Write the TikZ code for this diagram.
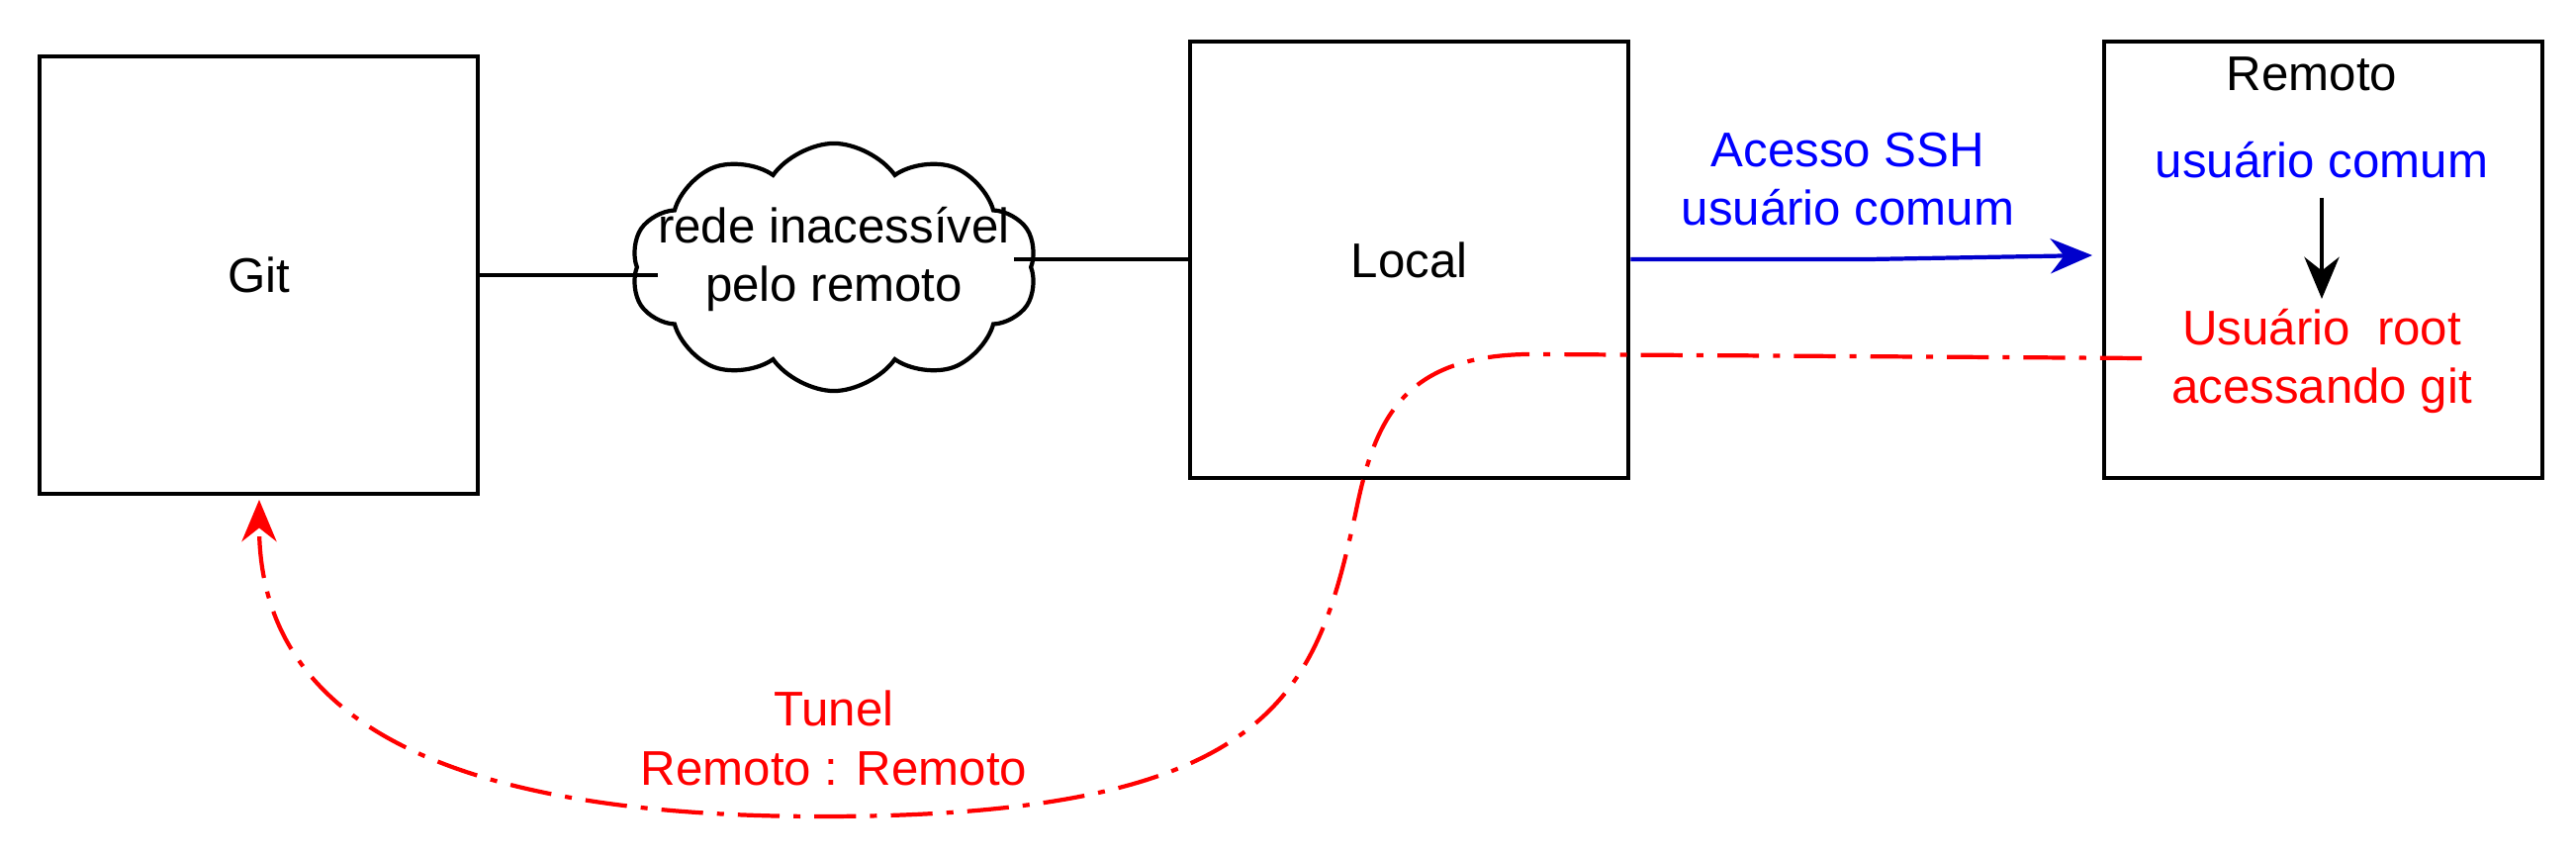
\documentclass[tikz,border=0pt]{standalone}
\usepackage{fontspec}
\setmainfont{Liberation Sans}
\usetikzlibrary{shapes.symbols,arrows.meta}
\definecolor{myblue}{RGB}{0,0,255}
\definecolor{myred}{RGB}{255,0,0}
\begin{document}
\begin{tikzpicture}[x=0.01cm,y=-0.01cm,
  box/.style={draw,line width=1.2pt,minimum width=4.43cm,minimum height=4.41cm,font=\fontsize{14}{17}\selectfont},
  txt/.style={font=\fontsize{14}{17}\selectfont,align=center},
  ln/.style={line width=1.2pt}]
\useasboundingbox (0,0) rectangle (2604,868);
\node[box] (git) at (261.5,278) {Git};
\node[box] (local) at (1424.5,262.5) {Local};
\node[box] (rem) at (2348.5,262.5) {};
\node[draw,ln,cloud,cloud puffs=10,cloud puff arc=110,cloud ignores aspect,minimum width=4.1cm,minimum height=2.5cm,inner sep=0pt] (cloud) at (843,270) {};
\node[txt] (cloudt) at (843,262) {rede inacessível\\pelo remoto};
\node[txt] (remt) at (2337,75) {Remoto};
\node[txt,text=myblue] (uc) at (2347,162) {usuário comum};
\node[txt,text=myred] (ur) at (2347,365) {Usuário\ \ root\\acessando git};
\node[txt,text=myblue] (ssh) at (1868,181) {Acesso SSH\\usuário comum};
\node[txt,text=myred] (tun) at (843,746) {Tunel\\Remoto : Remoto};
\coordinate (c1) at (665,278);
\coordinate (c2) at (1025,262);
\coordinate (b1) at (1890,262);
\coordinate (b2) at (2115,258);
\coordinate (k1) at (2347,200);
\coordinate (k2) at (2347,302);
\coordinate (r0) at (2165,362);
\coordinate (r1) at (1560,358);
\coordinate (r9) at (262,505);
\draw[ln] (git.east |- c1) -- (c1);
\draw[ln] (c2) -- (local.west |- c2);
\draw[ln,myblue!80!black,-{Stealth[length=12pt,width=10pt]}] (local.east |- b1) -- (b1) -- (b2);
\draw[ln,-{Stealth[length=12pt,width=10pt]}] (k1) -- (k2);
\draw[ln,myred,dash pattern=on 12pt off 4pt on 2pt off 4pt,-{Stealth[length=12pt,width=10pt]}]
  (r0) -- (r1) .. controls (1420,355) and (1390,420) .. (1370,520)
  .. controls (1330,700) and (1290,825) .. (830,825)
  .. controls (400,825) and (262,700) .. (r9);
\end{tikzpicture}
\end{document}
